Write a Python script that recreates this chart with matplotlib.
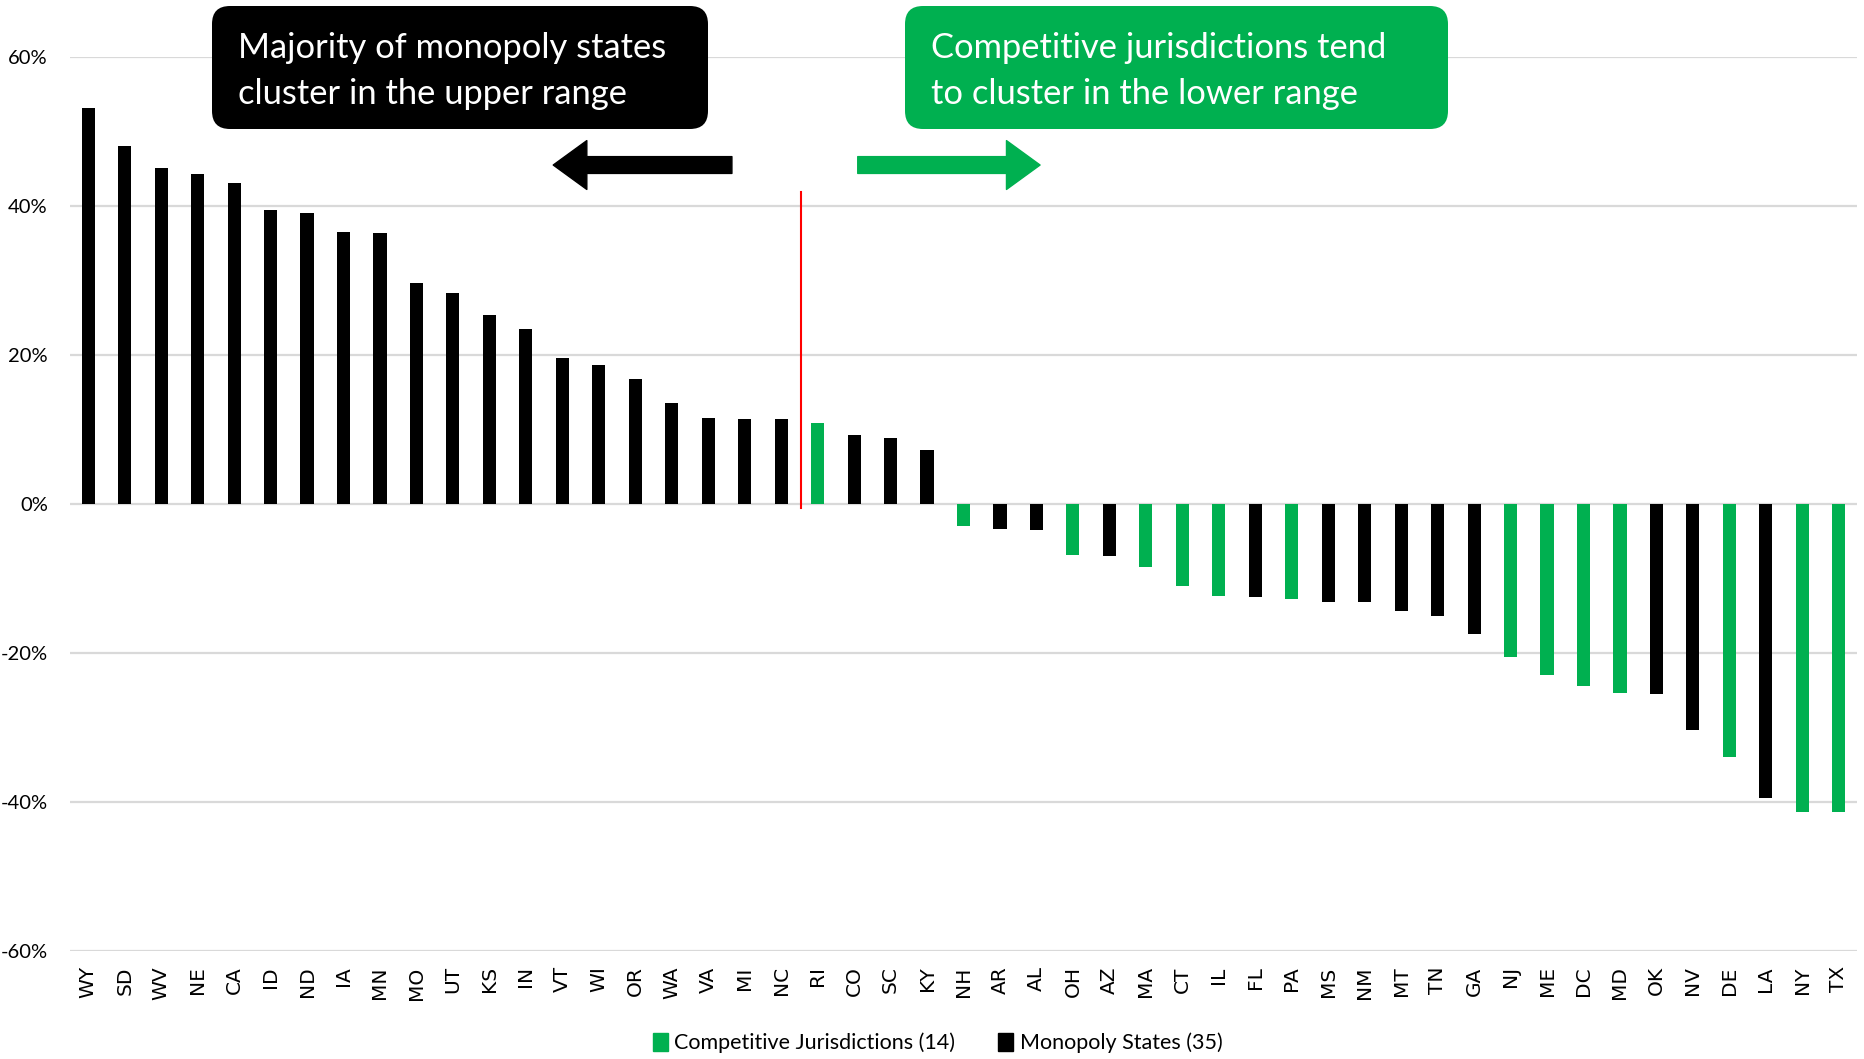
import matplotlib.pyplot as plt
import matplotlib.transforms as mtransforms
from matplotlib.patches import FancyBboxPatch, Patch
import numpy as np

W, H = 1864, 1059

states = ['WY', 'SD', 'WV', 'NE', 'CA', 'ID', 'ND', 'IA', 'MN', 'MO', 'UT', 'KS', 'IN',
          'VT', 'WI', 'OR', 'WA', 'VA', 'MI', 'NC', 'RI', 'CO', 'SC', 'KY', 'NH', 'AR',
          'AL', 'OH', 'AZ', 'MA', 'CT', 'IL', 'FL', 'PA', 'MS', 'NM', 'MT', 'TN', 'GA',
          'NJ', 'ME', 'DC', 'MD', 'OK', 'NV', 'DE', 'LA', 'NY', 'TX']
values = [53.1, 48.0, 45.1, 44.3, 43.1, 39.4, 39.1, 36.5, 36.4, 29.7, 28.3, 25.4, 23.5,
          19.6, 18.6, 16.8, 13.5, 11.5, 11.4, 11.4, 10.9, 9.2, 8.8, 7.2, -2.9, -3.4,
          -3.5, -6.9, -7.0, -8.4, -11.0, -12.3, -12.5, -12.8, -13.2, -13.2, -14.4, -15.0, -17.4,
          -20.5, -23.0, -24.4, -25.4, -25.5, -30.4, -33.9, -39.4, -41.3, -41.3]
competitive = ['RI', 'NH', 'OH', 'MA', 'CT', 'IL', 'PA', 'NJ', 'ME', 'DC', 'MD', 'DE', 'NY', 'TX']

GREEN = '#00B050'
BLACK = '#000000'

fig = plt.figure(figsize=(W / 100, H / 100), dpi=100)
ax = fig.add_axes([70 / W, 1 - 951 / H, (1857 - 70) / W, (951 - 57) / H])

x = np.arange(len(states))
vals = np.array(values)
is_comp = np.array([s in competitive for s in states])

ax.bar(x[is_comp], vals[is_comp], width=0.36, color=GREEN, zorder=3)
ax.bar(x[~is_comp], vals[~is_comp], width=0.36, color=BLACK, zorder=3)

ax.set_xlim(-0.5, len(states) - 0.5)
ax.set_ylim(-60, 60)
ax.set_yticks([-60, -40, -20, 0, 20, 40, 60])
ax.set_yticklabels(['-60%', '-40%', '-20%', '0%', '20%', '40%', '60%'],
                   fontfamily='Lato', fontsize=14.5)
ax.set_xticks(x)
ax.set_xticklabels(states, rotation=90, fontfamily='DejaVu Sans', fontsize=14.5)
ax.tick_params(axis='both', length=0)
ax.tick_params(axis='y', pad=16)
ax.tick_params(axis='x', pad=11)
ax.grid(axis='y', color='#D9D9D9', linewidth=1.6, zorder=0)
for sp in ax.spines.values():
    sp.set_visible(False)

# red divider between monopoly and competitive ranges
ax.plot([19.55, 19.55], [41.9, -0.5], color='red', linewidth=1.5, zorder=4)

# arrows
ax.annotate('', xy=(12.75, 45.5), xytext=(17.65, 45.5), annotation_clip=False,
            arrowprops=dict(arrowstyle='simple,head_length=1.1,head_width=1.6,tail_width=0.55',
                            color=BLACK, shrinkA=0, shrinkB=0, mutation_scale=22))
ax.annotate('', xy=(26.1, 45.5), xytext=(21.1, 45.5), annotation_clip=False,
            arrowprops=dict(arrowstyle='simple,head_length=1.1,head_width=1.6,tail_width=0.55',
                            color=GREEN, shrinkA=0, shrinkB=0, mutation_scale=22))

# callout boxes in pixel coordinates
px = mtransforms.Affine2D().scale(1 / W, 1 / H) + fig.transFigure


def callout(x0, y0, x1, y1, color, lines, tx):
    box = FancyBboxPatch((x0, H - y1), x1 - x0, y1 - y0,
                         boxstyle='round,pad=0,rounding_size=18',
                         transform=px, facecolor=color, edgecolor='none', zorder=5)
    fig.patches.append(box)
    fig.text(tx / W, 1 - 47.5 / H, lines[0], color='white', fontfamily='Lato',
             fontsize=24.8, va='center', ha='left', zorder=6)
    fig.text(tx / W, 1 - 94.5 / H, lines[1], color='white', fontfamily='Lato',
             fontsize=24.8, va='center', ha='left', zorder=6)


callout(212, 6, 708, 129, BLACK, ['Majority of monopoly states', 'cluster in the upper range'], 238)
callout(905, 6, 1448, 129, GREEN, ['Competitive jurisdictions tend', 'to cluster in the lower range'], 931)

handles = [Patch(color=GREEN), Patch(color=BLACK)]
fig.legend(handles, ['Competitive Jurisdictions (14)', 'Monopoly States (35)'],
           loc='center', bbox_to_anchor=(0.503, 1 - 1043 / H), ncol=2, frameon=False,
           prop={'family': 'Lato', 'size': 15.5}, handlelength=0.7, handleheight=0.9,
           handletextpad=0.3, columnspacing=2.0)

fig.savefig('out.png', dpi=100)
